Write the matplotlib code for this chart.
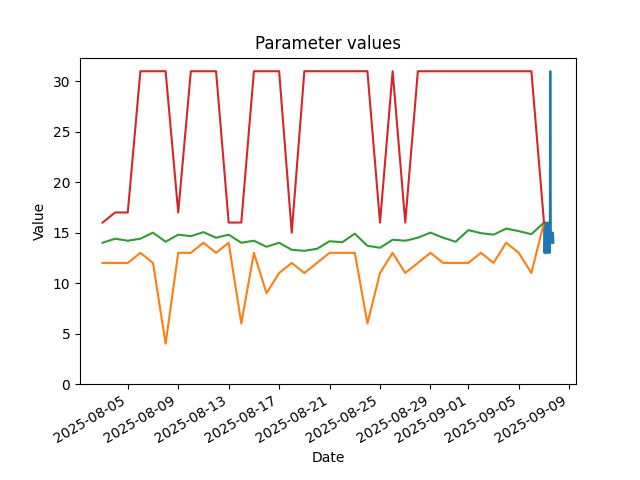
import matplotlib
matplotlib.use("Agg")
import matplotlib.pyplot as plt
import pandas as pd

# Daily series 2025-08-03 .. 2025-09-07
daily_dates = pd.date_range("2025-08-03", "2025-09-07", freq="D")
red_values = [16, 17, 17, 31, 31, 31, 17, 31, 31, 31, 16, 16, 31, 31, 31, 15,
              31, 31, 31, 31, 31, 31, 16, 31, 16, 31, 31, 31, 31, 31, 31, 31,
              31, 31, 31, 16]
orange_values = [12, 12, 12, 13, 12, 4, 13, 13, 14, 13, 14, 6, 13, 9, 11, 12,
                 11, 12, 13, 13, 13, 6, 11, 13, 11, 12, 13, 12, 12, 12, 13, 12,
                 14, 13, 11, 16]
green_values = [14.0, 14.4, 14.2, 14.4, 15.0, 14.1, 14.8, 14.65, 15.05, 14.5,
                14.8, 14.0, 14.2, 13.6, 14.0, 13.3, 13.2, 13.4, 14.15, 14.05,
                14.9, 13.7, 13.5, 14.3, 14.2, 14.5, 15.0, 14.5, 14.1, 15.25,
                14.95, 14.8, 15.4, 15.15, 14.85, 16.0]

# Hourly series on 2025-09-07
blue_times = pd.date_range("2025-09-07 00:00", "2025-09-07 18:00", freq="h")
blue_values = [16, 13, 15, 13, 16, 14, 13, 16, 13, 15, 16, 13, 31,
               15, 14, 15, 14, 15, 14]

fig, ax = plt.subplots(figsize=(6.4, 4.8), dpi=100)
ax.plot(blue_times, blue_values, color="C0")
ax.plot(daily_dates, orange_values, color="C1")
ax.plot(daily_dates, green_values, color="C2")
ax.plot(daily_dates, red_values, color="C3")
ax.set_ylim(bottom=0)
ax.set_title("Parameter values")
ax.set_xlabel("Date")
ax.set_ylabel("Value")
fig.autofmt_xdate()
fig.savefig("out.png", dpi=100)
